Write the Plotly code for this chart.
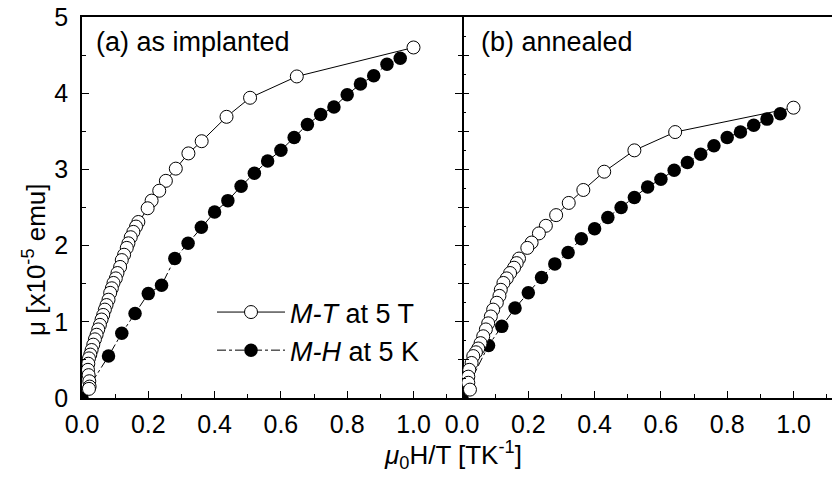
import plotly.graph_objects as go

# ---- data -------------------------------------------------------------
# (a) as implanted, M-T at 5 T : x = mu0*H/T, y = moment (1e-5 emu)
mt_a_x = [1.000, 0.648, 0.507, 0.436, 0.361, 0.321, 0.283, 0.253, 0.233, 0.210,
          0.198, 0.170, 0.163, 0.155, 0.147, 0.140, 0.135, 0.127, 0.120, 0.115,
          0.107, 0.102, 0.095, 0.090, 0.085, 0.080, 0.074, 0.069, 0.064, 0.059,
          0.054, 0.049, 0.044, 0.039, 0.034, 0.029, 0.025, 0.021, 0.019, 0.018,
          0.020, 0.022, 0.023, 0.021]
mt_a_y = [4.60, 4.22, 3.94, 3.69, 3.37, 3.21, 3.01, 2.85, 2.72, 2.59,
          2.49, 2.31, 2.25, 2.18, 2.11, 2.03, 1.97, 1.88, 1.81, 1.72,
          1.64, 1.57, 1.51, 1.44, 1.38, 1.29, 1.22, 1.16, 1.09, 1.03,
          0.96, 0.90, 0.83, 0.77, 0.70, 0.63, 0.57, 0.52, 0.45, 0.37,
          0.30, 0.22, 0.15, 0.12]

# (a) as implanted, M-H at 5 K
mh_x = [0.00, 0.08, 0.12, 0.16, 0.20, 0.24, 0.28, 0.32, 0.36, 0.40, 0.44, 0.48,
        0.52, 0.56, 0.60, 0.64, 0.68, 0.72, 0.76, 0.80, 0.84, 0.88, 0.92, 0.96]
mh_a_y = [0.00, 0.55, 0.85, 1.11, 1.37, 1.48, 1.83, 2.03, 2.24, 2.44, 2.59, 2.78,
          2.95, 3.11, 3.25, 3.42, 3.59, 3.72, 3.82, 3.98, 4.12, 4.23, 4.38, 4.46]

# (b) annealed, M-T at 5 T
mt_b_x = [1.000, 0.643, 0.520, 0.429, 0.366, 0.322, 0.284, 0.253, 0.232, 0.210,
          0.197, 0.172, 0.165, 0.157, 0.145, 0.135, 0.125, 0.117, 0.113, 0.105,
          0.094, 0.087, 0.079, 0.072, 0.064, 0.056, 0.049, 0.042, 0.034, 0.029,
          0.022, 0.019, 0.019, 0.024]
mt_b_y = [3.81, 3.49, 3.25, 2.97, 2.73, 2.56, 2.40, 2.26, 2.16, 2.04,
          1.97, 1.83, 1.77, 1.71, 1.64, 1.57, 1.51, 1.42, 1.34, 1.25,
          1.16, 1.07, 0.98, 0.90, 0.81, 0.72, 0.65, 0.60, 0.55, 0.46,
          0.37, 0.28, 0.20, 0.11]

# (b) annealed, M-H at 5 K
mh_b_y = [0.00, 0.69, 0.94, 1.18, 1.38, 1.58, 1.76, 1.91, 2.09, 2.22, 2.37, 2.50,
          2.63, 2.77, 2.87, 2.99, 3.09, 3.20, 3.31, 3.42, 3.49, 3.58, 3.66, 3.73]

x_ticks = [0.0, 0.2, 0.4, 0.6, 0.8, 1.0]
x_tick_text = ["0.0", "0.2", "0.4", "0.6", "0.8", "1.0"]
y_ticks = [0, 1, 2, 3, 4, 5]

label_mt = "<i>M-T</i> at 5 T"
label_mh = "<i>M-H</i> at 5 K"

# ---- styling ----------------------------------------------------------
FONT = "Liberation Sans, Arial, sans-serif"
W, H = 832, 479
PX_PER_UNIT = 331.5          # pixels per unit of mu0H/T
LEFT0, SPLIT = 82, 462        # pixel positions of the two x=0 axes

open_marker = dict(symbol="circle", size=13, color="white",
                   line=dict(color="black", width=1))
full_marker = dict(symbol="circle", size=13.5, color="black",
                   line=dict(color="black", width=0))
mt_line = dict(color="black", width=1)
mh_line = dict(color="black", width=1, dash="dashdot")

fig = go.Figure()

# panel (a)
fig.add_trace(go.Scatter(x=mh_x, y=mh_a_y, mode="lines+markers", name=label_mh,
                         marker=full_marker, line=mh_line, legendrank=2,
                         xaxis="x", yaxis="y"))
fig.add_trace(go.Scatter(x=mt_a_x, y=mt_a_y, mode="lines+markers", name=label_mt,
                         marker=open_marker, line=mt_line, legendrank=1,
                         xaxis="x", yaxis="y"))
# panel (b)
fig.add_trace(go.Scatter(x=mh_x, y=mh_b_y, mode="lines+markers", name=label_mh,
                         marker=full_marker, line=mh_line, showlegend=False,
                         xaxis="x2", yaxis="y2"))
fig.add_trace(go.Scatter(x=mt_b_x, y=mt_b_y, mode="lines+markers", name=label_mt,
                         marker=open_marker, line=mt_line, showlegend=False,
                         xaxis="x2", yaxis="y2"))

TICK_FONT = dict(family=FONT, size=25, color="black")
axis_common = dict(showgrid=False, zeroline=False, showline=True,
                   linecolor="black", linewidth=1.6, ticks="inside",
                   tickcolor="black", tickwidth=1.3, ticklen=7,
                   tickfont=TICK_FONT)
x_minor = dict(dtick=0.1, tick0=0, ticks="inside", ticklen=4,
               tickwidth=1.3, tickcolor="black")

fig.update_layout(
    width=W, height=H,
    margin=dict(l=0, r=0, t=17, b=81, autoexpand=False),
    paper_bgcolor="white", plot_bgcolor="white",
    font=dict(family=FONT, color="black"),
    xaxis=dict(**axis_common, domain=[LEFT0 / W, SPLIT / W],
               range=[0, (SPLIT - LEFT0) / PX_PER_UNIT],
               tickvals=x_ticks, ticktext=x_tick_text, mirror=True,
               minor=x_minor, ticklabelstandoff=3),
    xaxis2=dict(**axis_common, domain=[SPLIT / W, 1.0],
                range=[0, (W - SPLIT) / PX_PER_UNIT], anchor="y2",
                tickvals=x_ticks, ticktext=x_tick_text, mirror=True,
                minor=x_minor, ticklabelstandoff=3),
    yaxis=dict(**axis_common, range=[0, 5], tickvals=y_ticks, mirror="ticks",
               minor=dict(dtick=0.5, tick0=0, ticks="inside", ticklen=4,
                          tickwidth=1.3, tickcolor="black"),
               ticklabelstandoff=7),
    # the shared divider line comes from the left panel's mirrored axis
    yaxis2=dict(**axis_common, range=[0, 5], anchor="x2", dtick=0.5, tick0=0,
                showticklabels=False,
                minor=dict(dtick=0.25, tick0=0, ticks="inside", ticklen=4,
                           tickwidth=1.3, tickcolor="black")),
    legend=dict(x=212 / W, y=(398 - 288) / 381, xanchor="left", yanchor="top",
                bgcolor="rgba(0,0,0,0)", borderwidth=0, itemwidth=68,
                font=dict(family=FONT, size=27, color="black")),
    showlegend=True,
)
fig.update_layout(yaxis2_showline=False)

annotations = [
    dict(text="(a) as implanted", x=94 / W, y=(398 - 42) / 381,
         xanchor="left", yanchor="middle", font=dict(size=27)),
    dict(text="(b) annealed", x=479 / W, y=(398 - 42) / 381,
         xanchor="left", yanchor="middle", font=dict(size=27)),
    dict(text="\u03bc [x10<sup>-5</sup> emu]", x=34 / W, y=(398 - 260) / 381,
         xanchor="center", yanchor="middle", textangle=-90, font=dict(size=26)),
    dict(text="<i>\u03bc</i><sub>0</sub>H/T [TK<sup>-1</sup>]", x=453 / W,
         y=(398 - 455) / 381, xanchor="center", yanchor="middle",
         font=dict(size=26)),
]
for a in annotations:
    a.update(xref="paper", yref="paper", showarrow=False)
    a["font"].update(family=FONT, color="black")
fig.update_layout(annotations=annotations)

fig.write_html("out.html")
